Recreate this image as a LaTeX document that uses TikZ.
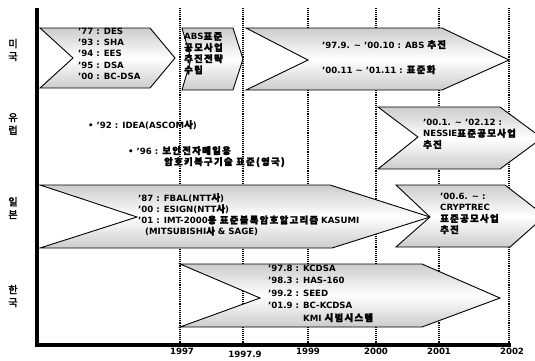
\documentclass[tikz,border=0pt]{standalone}
\usepackage{fontspec}
\setmainfont{DejaVu Sans}
\newfontfamily\kofont{Noto Sans CJK KR}[FakeBold=2.4, LetterSpace=14]
\newcommand{\ko}[1]{{\kofont\fontsize{9.4}{11}\selectfont #1}}
\newcommand{\tl}{\textasciitilde}
\begin{document}
\begin{tikzpicture}[x=1pt,y=-1pt,
  shp/.style={draw=black, line width=0.9pt, top color=black!20, bottom color=black!20, middle color=white},
  gridln/.style={line width=1.6pt, dash pattern=on 1pt off 0.9pt},
  axisln/.style={line width=3.6pt},
  txt/.style={anchor=north west, align=left, inner sep=0pt, font=\bfseries\fontsize{8.6}{11.2}\selectfont},
  lbl/.style={align=center, inner sep=0pt, font=\kofont\fontsize{10.2}{12.8}\selectfont},
  yr/.style={anchor=north, inner sep=0pt, font=\bfseries\fontsize{8.6}{9}\selectfont}]
\useasboundingbox (0,0) rectangle (535,360);
% grid coordinates
\foreach \n/\x in {a/180,b/243,c/308,d/376,e/439,f/509}{
  \coordinate (g\n t) at (\x,8);
  \coordinate (g\n b) at (\x,345);
  \draw[gridln] (g\n t) -- (g\n b);
}
% USA
\path[shp] (40,28) -- (150,28) -- (175,58) -- (150,88) -- (40,88) -- (73,58) -- cycle;
\path[shp] (182,28) -- (233,28) -- (243,59) -- (233,90) -- (182,90) -- (191,59) -- cycle;
\path[shp] (246,28) -- (442,28) -- (509,60) -- (442,90) -- (246,90) -- (308,60) -- cycle;
% Europe
\path[shp] (378,107) -- (500,107) -- (542,138) -- (500,169) -- (378,169) -- (418,137) -- cycle;
% Japan
\path[shp] (40,185) -- (330,185) -- (430,217) -- (332,248) -- (40,248) -- (137,217) -- cycle;
\path[shp] (396,185) -- (505,185) -- (545,216) -- (510,247) -- (396,247) -- (430,217) -- cycle;
% Korea
\path[shp] (180,264) -- (422,264) -- (500,298) -- (422,327) -- (180,327) -- (260,298) -- cycle;
% axes
\coordinate (o) at (37,345);
\coordinate (ytop) at (37,8);
\coordinate (xend) at (511,345);
\draw[axisln] (ytop) -- (o) -- (xend);
% country labels
\node[lbl] (us) at (13,50) {미\\국};
\node[lbl] (eu) at (13,124) {유\\럽};
\node[lbl] (jp) at (13,208) {일\\본};
\node[lbl] (kr) at (13,296) {한\\국};
% texts
\node[txt] (t1) at (78,28) {'77 : DES\\'93 : SHA\\'94 : EES\\'95 : DSA\\'00 : BC-DSA};
\node[txt] (t2) at (184,32) {ABS\ko{표준}\\\ko{공모사업}\\\ko{추진전략}\\\ko{수립}};
\node[txt] (t3) at (322,40) {'97.9. \tl{} '00.10 : ABS \ko{추진}};
\node[txt] (t4) at (322,65) {'00.11 \tl{} '01.11 : \ko{표준화}};
\node[txt] (t5) at (88,120) {• '92 : IDEA(ASCOM\ko{사})};
\node[txt] (t6) at (128,146) {• '96 : \ko{보안전자메일용}};
\node[txt] (t7) at (164,157) {\ko{암호키복구기술 표준(영국)}};
\node[txt] (t8) at (423,119) {'00.1. \tl{} '02.12 :\\NESSIE\ko{표준공모사업}\\\ko{추진}};
\node[txt] (t9) at (138,193) {'87 : FBAL(NTT\ko{사})\\'00 : ESIGN(NTT\ko{사})\\'01 : IMT-2000\ko{용 표준블록암호알고리즘} KASUMI\\\hspace*{7pt}(MITSUBISHI\ko{사} \& SAGE)};
\node[txt] (t10) at (440,193) {'00.6. \tl{} :\\CRYPTREC\\\ko{표준공모사업}\\\ko{추진}};
\node[txt, font=\bfseries\fontsize{8.6}{12.4}\selectfont] (t11) at (268,265) {'97.8 : KCDSA\\'98.3 : HAS-160\\'99.2 : SEED\\'01.9 : BC-KCDSA\\\hspace*{35pt}KMI \ko{시범시스템}};
% years
\node[yr] (y1) at (182,348) {1997};
\node[yr] (y2) at (245,351) {1997.9};
\node[yr] (y3) at (308,348) {1999};
\node[yr] (y4) at (376,348) {2000};
\node[yr] (y5) at (439,348) {2001};
\node[yr] (y6) at (512,348) {2002};
\end{tikzpicture}
\end{document}
